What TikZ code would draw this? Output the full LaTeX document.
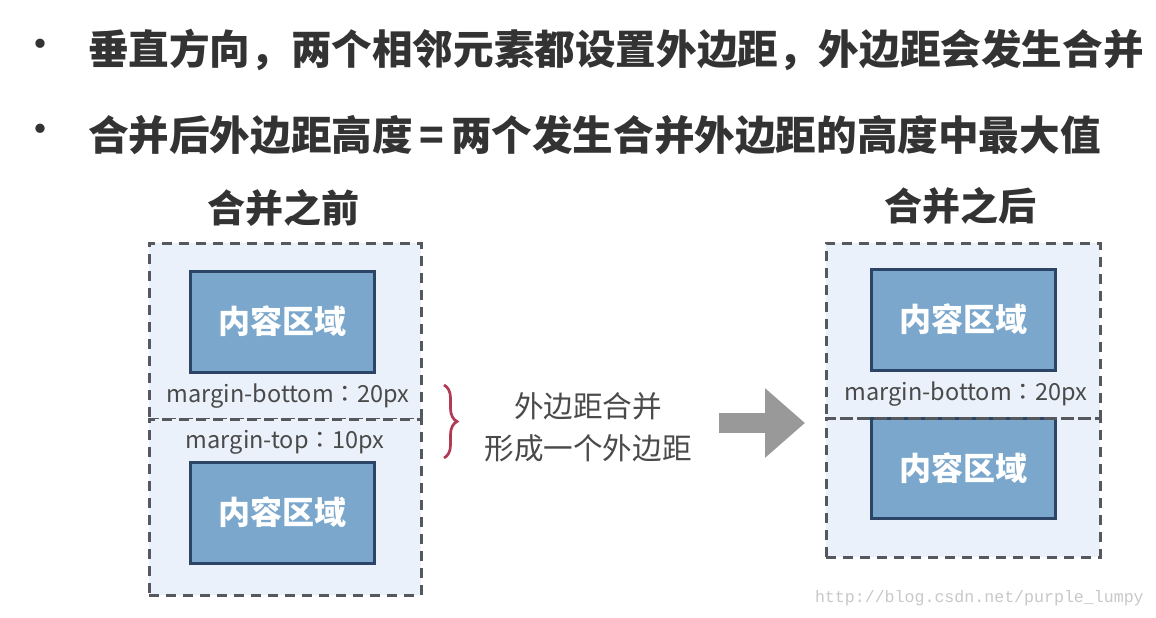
\documentclass[tikz,border=0pt]{standalone}
\usepackage{fontspec}
\setmainfont{Noto Sans CJK SC}
\newfontfamily\labelfont{Noto Sans CJK JP}
\newfontfamily\urlfont{Liberation Mono}
\usepackage{tikz}
\usetikzlibrary{positioning,arrows.meta,decorations.pathreplacing}
\definecolor{headgray}{HTML}{333333}
\definecolor{labelgray}{HTML}{4A4A4A}
\definecolor{dashgray}{HTML}{55595E}
\definecolor{marginfill}{HTML}{EAF1FA}
\definecolor{boxfill}{HTML}{7AA7CB}
\definecolor{boxline}{HTML}{2C4466}
\definecolor{bracered}{HTML}{B23A55}
\definecolor{arrowgray}{HTML}{999999}
\definecolor{markgray}{HTML}{C8C8C8}
\tikzset{
	slide/.style={x=1pt, y=-1pt, inner sep=0pt, outer sep=0pt},
	headline/.style={anchor=west, text=headgray, font=\fontsize{40.6}{44}\selectfont\bfseries},
	dot/.style={text=headgray, font=\fontsize{44}{48}\selectfont},
	title/.style={text=headgray, font=\fontsize{38}{42}\selectfont\bfseries},
	marginbox/.style={draw=dashgray, fill=marginfill, line width=3pt,
		dash pattern=on 10pt off 7pt, minimum width=272pt},
	content/.style={draw=boxline, fill=boxfill, line width=3pt,
		minimum width=184pt, minimum height=101pt, text=white,
		font=\fontsize{32}{36}\selectfont\bfseries},
	marginlabel/.style={text=labelgray, font=\labelfont\fontsize{23.5}{26}\selectfont},
	note/.style={text=labelgray, font=\fontsize{29.6}{34}\selectfont},
	brace/.style={draw=bracered, line width=2.7pt,
		decorate, decoration={brace, amplitude=13pt}},
	bigarrow/.style={draw=arrowgray, line width=20pt,
		-{Triangle[length=40pt, width=67pt]}}
}

\begin{document}
\begin{tikzpicture}[slide]
	\fill[white] (0,0) rectangle (1156,618);
	\useasboundingbox (0,0) rectangle (1156,618);
	% the two points
	\node[dot] (dot1) at (40,50) {•};
	\node[dot] (dot2) at (40,135) {•};
	\node[headline] (line1) at (88,50) {垂直方向，两个相邻元素都设置外边距，外边距会发生合并};
	\node[headline] (line2) at (88,135) {合并后外边距高度\,=\,两个发生合并外边距的高度中最大值};
	% before
	\node[title] (before) at (283,208) {合并之前};
	\node[marginbox, minimum height=176pt, anchor=north west] (before top) at (149,243) {};
	\node[marginbox, minimum height=176pt, anchor=north west] (before bottom) at (149,419) {};
	\node[content, anchor=north west] (box1) at (190,271) {内容区域};
	\node[content, anchor=north west] (box2) at (190,462) {内容区域};
	\node[marginlabel] (mb1) at (288,396) {margin-bottom：20px};
	\node[marginlabel] (mt2) at (285,442) {margin-top：10px};
	\coordinate (brace top) at (444,385);
	\coordinate (brace bottom) at (444,458);
	\draw[brace] (brace top) -- (brace bottom);
	% merge
	\node[note] (note1) at (588,406) {外边距合并};
	\node[note] (note2) at (588,448) {形成一个外边距};
	\coordinate (arrow tail) at (719,423);
	\coordinate (arrow tip) at (805,423);
	\draw[bigarrow] (arrow tail) -- (arrow tip);
	% after
	\node[title] (after) at (960,206) {合并之后};
	\node[marginbox, minimum width=274pt, minimum height=314pt, anchor=north west, draw=none] (after all) at (826,243) {};
	\node[content, anchor=north west] (box3) at (871,269) {内容区域};
	\node[content, anchor=north west, minimum height=100pt] (box4) at (871,418) {内容区域};
	\node[marginbox, fill=none, minimum width=274pt, minimum height=175pt, anchor=north west] (after top) at (826,243) {};
	\node[marginbox, fill=none, minimum width=274pt, minimum height=139pt, anchor=north west] (after bottom) at (826,418) {};
	\node[marginlabel] (mb3) at (966,394) {margin-bottom：20px};
	\node[anchor=west, text=markgray, font=\urlfont\fontsize{16.6}{20}\selectfont] (mark) at (815,598) {http://blog.csdn.net/purple\_lumpy};
\end{tikzpicture}
\end{document}
